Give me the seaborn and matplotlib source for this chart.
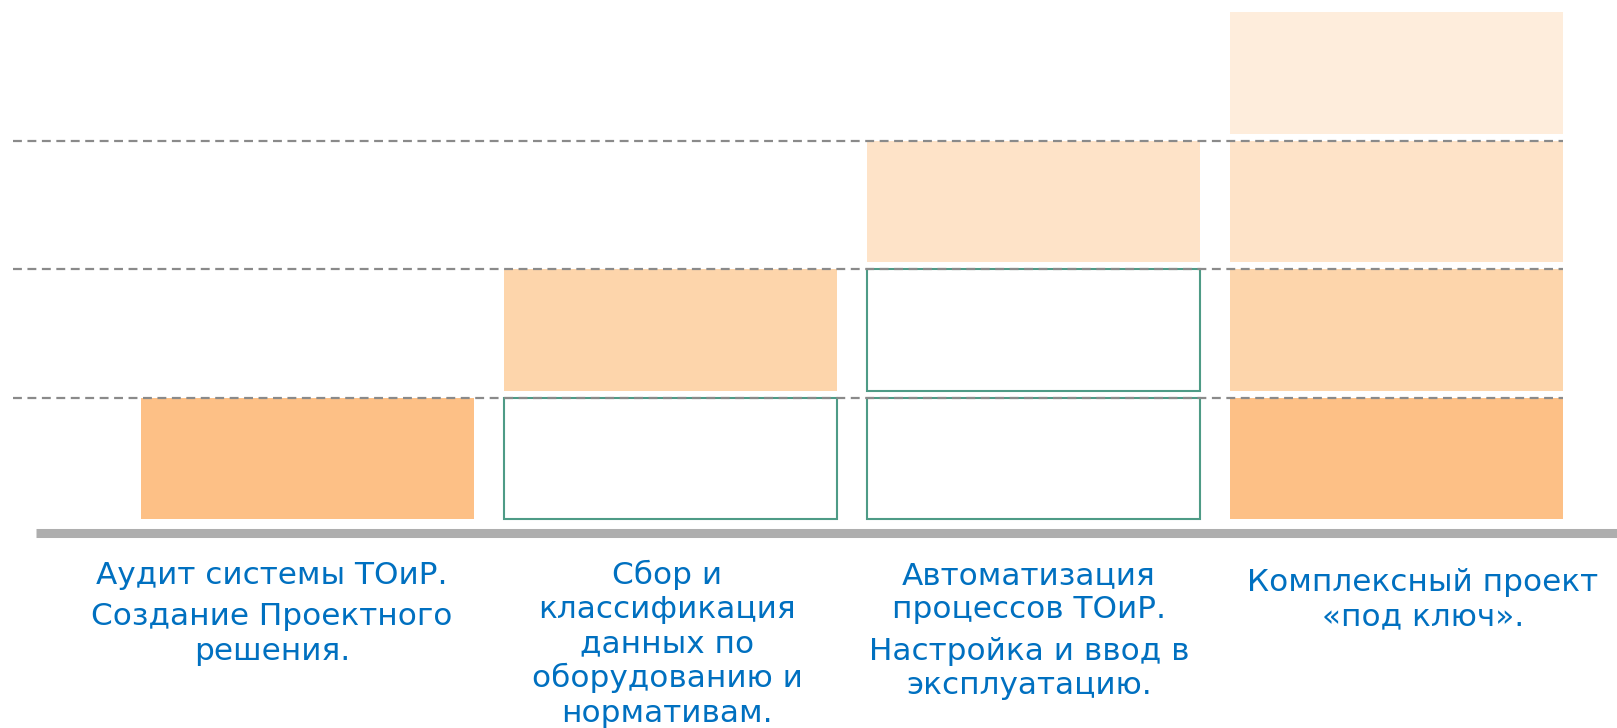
import matplotlib
matplotlib.use("Agg")
import matplotlib.pyplot as plt
import seaborn as sns
import pandas as pd

# ---- data ----
categories = ["Аудит", "Сбор данных", "Автоматизация", "Под ключ"]
# block style per column, bottom to top: "fill" = coloured block, "outline" = empty framed block
block_styles = [
    ["fill"],
    ["outline", "fill"],
    ["outline", "outline", "fill"],
    ["fill", "fill", "fill", "fill"],
]
level_colors = ["#FDC086", "#FDD5AB", "#FEE3C8", "#FEEDDC"]
outline_color = "#4E9B86"
label_paragraphs = [
    [["Аудит системы ТОиР."], ["Создание Проектного", "решения."]],
    [["Сбор и", "классификация", "данных по", "оборудованию и", "нормативам."]],
    [["Автоматизация", "процессов ТОиР."], ["Настройка и ввод в", "эксплуатацию."]],
    [["Комплексный проект", "«под ключ»."]],
]
text_color = "#0070C0"

# ---- layout helpers (pixel -> data) ----
W, H = 1617, 728
PX_X0, PX_XU = 307.5, 363.0      # column 0 centre, px per column
PX_Y1, PX_YU = 397.7, 128.5      # y=1 position, px per level
def dx(px):
    return (px - PX_X0) / PX_XU
def dy(py):
    return 1 - (py - PX_Y1) / PX_YU

gap = 7 / PX_YU
bar_w = 333 / PX_XU

sns.set_style("white")
plt.rcParams["font.family"] = ["DejaVu Sans"]

fig = plt.figure(figsize=(W / 100, H / 100), dpi=100)
ax = fig.add_axes([0, 0, 1, 1])

n_levels = max(len(s) for s in block_styles)
for lvl in range(n_levels):
    for style in ("fill", "outline"):
        cats = [c for c, s in zip(categories, block_styles) if len(s) > lvl and s[lvl] == style]
        if not cats:
            continue
        df = pd.DataFrame({"cat": cats, "h": [1 - gap] * len(cats)})
        if style == "fill":
            sns.barplot(data=df, x="cat", y="h", order=categories, color=level_colors[lvl],
                        saturation=1, width=bar_w, errorbar=None, bottom=lvl + gap,
                        linewidth=0, zorder=2, ax=ax)
        else:
            sns.barplot(data=df, x="cat", y="h", order=categories, color="white",
                        saturation=1, width=bar_w, errorbar=None, bottom=lvl + gap,
                        edgecolor=outline_color, linewidth=1.5, zorder=2, ax=ax)

# dashed level lines
for lvl in (1, 2, 3):
    ax.plot([dx(13), dx(1563)], [lvl, lvl], color="#8A8A8A", lw=1.6,
            linestyle=(0, (4.0, 2.5)), zorder=3)

# thick base line
ax.plot([dx(36), dx(W)], [dy(533.5)] * 2, color="#AEAEAE", lw=6.5,
        solid_capstyle="butt", zorder=3)

# labels
label_cx = [272, 667, 1029, 1423]
label_fs = 22.4
first_base = [583.5, 583.5, 584, 591]
line_step, para_gap = 34.5, 7
for i, paras in enumerate(label_paragraphs):
    y = first_base[i]
    for pi, para in enumerate(paras):
        if pi > 0:
            y += para_gap
        for line in para:
            ax.text(dx(label_cx[i]), dy(y), line, ha="center", va="baseline",
                    fontsize=label_fs, color=text_color, zorder=4)
            y += line_step

ax.set_xlim(dx(0), dx(W))
ax.set_ylim(dy(H), dy(0))
ax.axis("off")

fig.savefig("out.png", dpi=100)
